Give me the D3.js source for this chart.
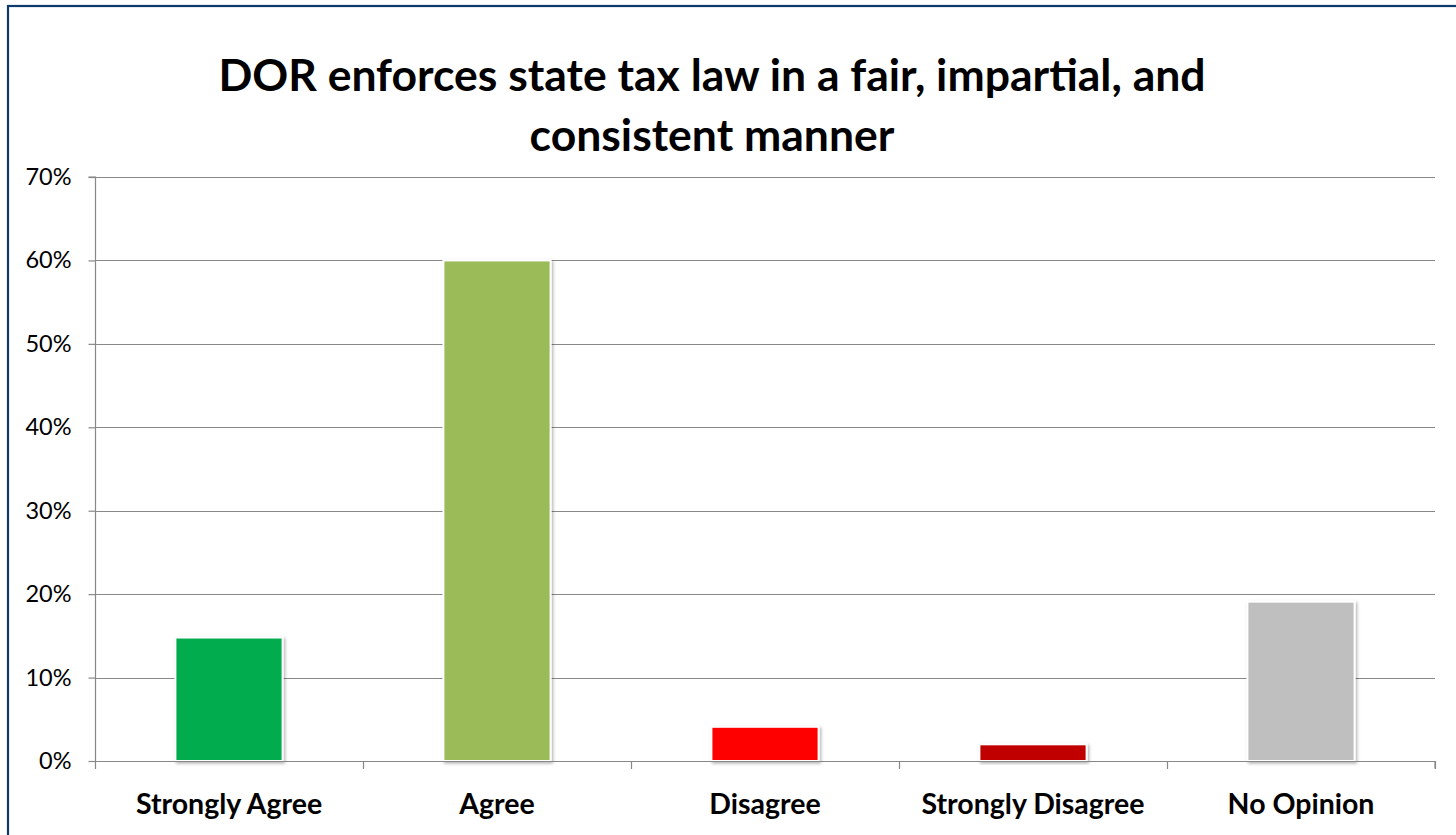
<!DOCTYPE html>
<html><head><meta charset="utf-8">
<script src="https://cdn.jsdelivr.net/npm/d3@7"></script>
<style>html,body{margin:0;padding:0;background:#fff;overflow:hidden}</style>
</head><body>
<svg id="c" width="1456" height="835"></svg>
<script>
const categories = ["Strongly Agree", "Agree", "Disagree", "Strongly Disagree", "No Opinion"];
const values = [0.148, 0.60, 0.041, 0.020, 0.191];
const colors = ["#00ac4e", "#9bbb59", "#ff0000", "#c00000", "#bfbfbf"];
const yTicks = [0, 0.1, 0.2, 0.3, 0.4, 0.5, 0.6, 0.7];
const titleLines = ["DOR enforces state tax law in a fair, impartial, and", "consistent manner"];

const svg = d3.select("#c");
const W = 1456, H = 835;
const m = {left: 95, right: 1435, top: 177, bottom: 761};
const FONT = "Lato, 'Open Sans', sans-serif";

const defs = svg.append("defs");
const f = defs.append("filter").attr("id", "sh").attr("x", "-10%").attr("y", "-10%").attr("width", "130%").attr("height", "130%");
f.append("feDropShadow").attr("dx", 1.5).attr("dy", 1.5).attr("stdDeviation", 1.5).attr("flood-color", "#000").attr("flood-opacity", 0.3);

svg.append("rect").attr("x", 0).attr("y", 0).attr("width", W).attr("height", H).attr("fill", "#fff");
// outer frame
svg.append("rect").attr("x", 8).attr("y", 6).attr("width", W + 20).attr("height", H + 20)
  .attr("fill", "none").attr("stroke", "#0e3a6b").attr("stroke-width", 2.2);

const x = d3.scaleBand().domain(categories).range([m.left, m.right]).paddingInner(0.6).paddingOuter(0.3);
const xb = d3.scaleBand().domain(categories).range([m.left, m.right]);
const y = d3.scaleLinear().domain([0, 0.7]).range([m.bottom, m.top]);

// gridlines
svg.append("g").selectAll("line").data(yTicks.filter(d => d > 0)).join("line")
  .attr("x1", m.left).attr("x2", m.right)
  .attr("y1", d => Math.round(y(d)) + 0.5).attr("y2", d => Math.round(y(d)) + 0.5)
  .attr("stroke", "#888").attr("stroke-width", 1.2);

// y axis
const yAxis = d3.axisLeft(y).tickValues(yTicks).tickFormat(d3.format(".0%")).tickSize(7).tickPadding(17);
const gy = svg.append("g").attr("transform", `translate(${m.left + 0.5},0)`).call(yAxis);
gy.selectAll("path,line").attr("stroke", "#888").attr("stroke-width", 1.2);
gy.select(".domain").attr("d", `M-7,${m.top}H0V${m.bottom}`);
gy.selectAll("text").attr("font-family", FONT).attr("font-size", 23.5).attr("fill", "#000");

// bars
svg.append("g").selectAll("rect").data(categories).join("rect")
  .attr("x", d => x(d)).attr("width", x.bandwidth())
  .attr("y", (d, i) => y(values[i])).attr("height", (d, i) => m.bottom - y(values[i]))
  .attr("fill", (d, i) => colors[i]).attr("stroke", "#fff").attr("stroke-width", 2)
  .attr("filter", "url(#sh)");

// x axis
const xAxis = d3.axisBottom(xb).tickSize(0);
const gx = svg.append("g").attr("transform", `translate(0,${m.bottom + 0.5})`).call(xAxis);
gx.select(".domain").attr("stroke", "#888").attr("stroke-width", 1.2).attr("d", `M${m.left},0H${m.right}V7`);
gx.selectAll("text").attr("font-family", FONT).attr("font-weight", "bold")
  .attr("font-size", 28.5).attr("fill", "#000").attr("y", 52).attr("dy", 0);
// category boundary ticks
const bounds = categories.map(c => xb(c)).concat([m.right]);
svg.append("g").selectAll("line").data(bounds).join("line")
  .attr("x1", d => Math.round(d) + 0.5).attr("x2", d => Math.round(d) + 0.5)
  .attr("y1", m.bottom).attr("y2", m.bottom + 8)
  .attr("stroke", "#888").attr("stroke-width", 1.2);

// title
svg.append("g").selectAll("text").data(titleLines).join("text")
  .attr("x", 712).attr("y", (d, i) => 91 + i * 60)
  .attr("text-anchor", "middle").attr("font-family", FONT)
  .attr("font-weight", "bold").attr("font-size", 44.5).attr("fill", "#000")
  .text(d => d);
</script>
</body></html>
